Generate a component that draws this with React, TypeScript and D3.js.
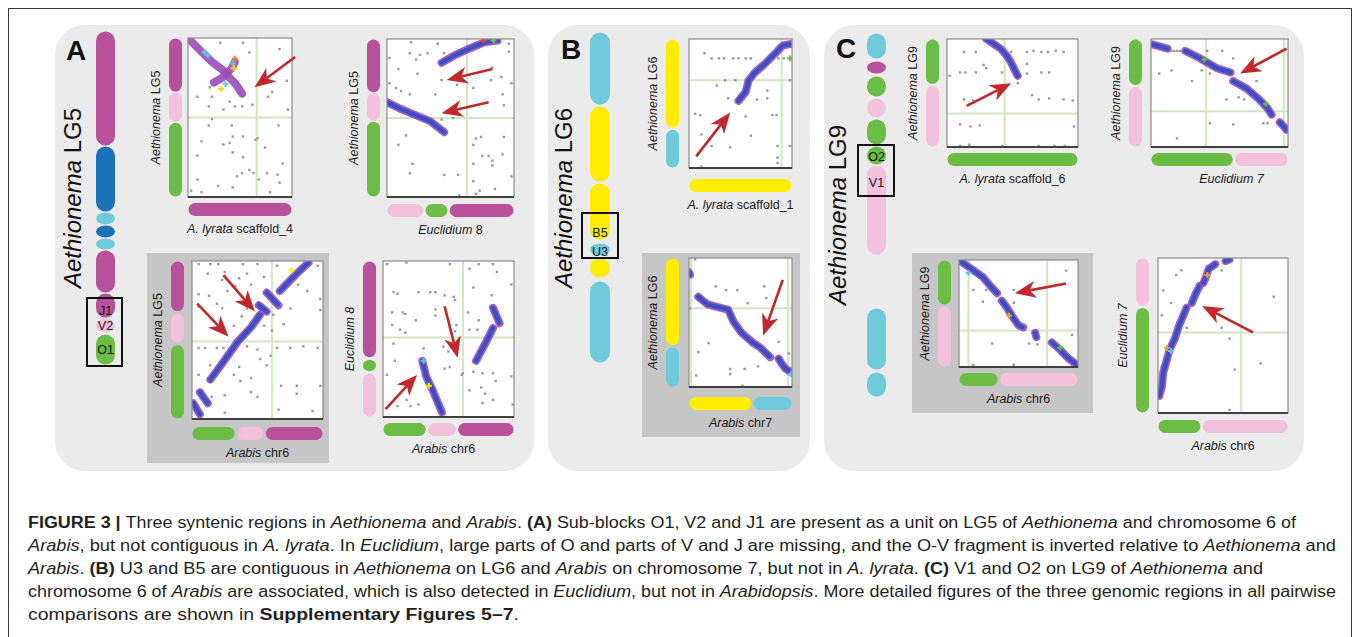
import React from 'react';
import * as d3 from 'd3';

type Pt = [number, number];
type Block = [number, number, string];
type Part = [string, string]; // [style, text]  n = normal, i = italic, b = bold

// block colours
const blockColor: Record<string, string> = {
  magenta: '#b7519b',
  pink: '#f3c1db',
  green: '#6bbd45',
  blue: '#1a72b9',
  cyan: '#6fcbdc',
  yellow: '#ffed00',
};

// ---- Aethionema linkage groups (length units along the chromosome) ----
const lg5Blocks: Block[] = [
  [0, 115, 'magenta'], [115, 181, 'blue'], [181, 194, 'cyan'], [194, 207, 'blue'],
  [207, 219, 'cyan'], [219, 262, 'magenta'], [262, 287, 'magenta'], [287, 302, 'pink'], [303, 334, 'green'],
];
const lg6Blocks: Block[] = [
  [0, 73, 'cyan'], [74, 150, 'yellow'], [151, 208, 'yellow'], [211, 224, 'cyan'],
  [226, 246, 'yellow'], [249, 331, 'cyan'],
];
const lg9Blocks: Block[] = [
  [0, 26, 'cyan'], [28, 41, 'magenta'], [43, 64, 'green'], [65, 85, 'pink'], [86, 112, 'green'],
  [113, 132, 'green'], [132, 222, 'pink'], [275, 337, 'cyan'], [339, 364, 'cyan'],
];
const lg5Tags = [['J1', 280], ['V2', 295], ['O1', 319]] as [string, number][];
const lg6Tags = [['B5', 201], ['U3', 220]] as [string, number][];
const lg9Tags = [['O2', 124], ['V1', 150]] as [string, number][];

// ---- dot plots: all values in percent of each axis ----
// A1  Aethionema LG5 vs A. lyrata scaffold_4
const a1Left: Block[] = [[0, 34, 'magenta'], [34, 53, 'pink'], [53, 100, 'green']];
const a1Bottom: Block[] = [[0, 100, 'magenta']];
const a1Grid = { x: [66], y: [50] };
const a1Synteny: Pt[][] = [
  [[0, 0], [12, 8], [23, 15], [33, 20], [40, 25], [46, 29], [50, 33], [52, 35]],
  [[25, 28], [33, 25], [42, 19], [45, 15]],
];
const a1Marks: [number, number, string][] = [[45, 13, '#f07d2a'], [43, 16, '#5fc7e6'], [44, 19, '#ffd400'], [32, 32, '#ffd400'], [16, 9, '#5fc7e6'], [19, 11, '#5fc7e6'], [36, 29, '#5fc7e6']];
const a1Arrows: [Pt, Pt][] = [[[103, 12], [64, 31]]];
const a1Noise: Pt[] = [
  [31, 3], [53, 3], [59, 9], [88, 7], [95, 27], [81, 34], [77, 37], [21, 31], [23, 37], [9, 37], [20, 43],
  [34, 45], [40, 40], [45, 43], [52, 43], [62, 42], [96, 45], [23, 51], [20, 55], [42, 55], [87, 55], [13, 65],
  [43, 62], [53, 62], [67, 63], [34, 67], [40, 66], [43, 72], [74, 69], [9, 74], [91, 79], [53, 75], [59, 83],
  [47, 87], [52, 85], [63, 85], [76, 85], [86, 86], [88, 91], [9, 89], [29, 93], [3, 96], [13, 97], [43, 94],
  [68, 89], [79, 97], [65, 64],
];

// A2  Aethionema LG5 vs Euclidium 8
const a2Left: Block[] = [[0, 34, 'magenta'], [34, 52, 'pink'], [52, 100, 'green']];
const a2Bottom: Block[] = [[0, 29, 'pink'], [30, 48, 'green'], [49, 100, 'magenta']];
const a2Grid = { x: [63], y: [50] };
const a2Synteny: Pt[][] = [
  [[43, 15], [54, 10], [65, 6], [77, 2], [87, 1]],
  [[0, 40], [10, 44], [22, 48], [34, 52], [45, 59]],
];
const a2Marks: [number, number, string][] = [[76, 1, '#e8462b'], [84, 1, '#6bbd45']];
const a2Arrows: [Pt, Pt][] = [[[83, 19], [47, 26]], [[80, 40], [43, 47]]];
const a2Noise: Pt[] = [
  [19, 2], [40, 3], [96, 3], [2, 12], [18, 9], [26, 10], [32, 9], [23, 13], [45, 9], [9, 19], [24, 22],
  [2, 28], [7, 31], [11, 33], [18, 35], [43, 26], [55, 29], [38, 35], [68, 31], [82, 26], [90, 24], [98, 28],
  [83, 18], [96, 8], [91, 35], [92, 42], [52, 50], [43, 51], [15, 61], [9, 67], [70, 63], [74, 62], [92, 62],
  [68, 67], [75, 74], [80, 74], [91, 73], [83, 77], [83, 80], [68, 79], [20, 79], [18, 85], [45, 86], [56, 86],
  [98, 87], [68, 90], [73, 96], [70, 98], [85, 95], [57, 99],
];

// A3  Aethionema LG5 vs Arabis chr6
const a3Left: Block[] = [[0, 32, 'magenta'], [33, 52, 'pink'], [53, 100, 'green']];
const a3Bottom: Block[] = [[0, 33, 'green'], [34, 55, 'pink'], [56, 100, 'magenta']];
const a3Grid = { x: [61], y: [51] };
const a3Synteny: Pt[][] = [
  [[1, 90], [6, 97]],
  [[6, 83], [12, 90]],
  [[14, 75], [22, 66], [35, 51], [45, 42], [52, 34]],
  [[51, 28], [57, 32]],
  [[57, 20], [66, 28]],
  [[67, 19], [80, 8], [89, 1]],
];
const a3Marks: [number, number, string][] = [[76, 6, '#ffe600']];
const a3Arrows: [Pt, Pt][] = [[[4, 27], [28, 48]], [[24, 9], [48, 32]]];
const a3Noise: Pt[] = [
  [5, 2], [14, 2], [20, 2], [39, 2], [50, 2], [65, 3], [96, 3], [12, 8], [25, 7], [42, 8], [55, 10], [23, 12],
  [36, 11], [5, 21], [13, 22], [27, 19], [33, 16], [45, 15], [81, 15], [88, 19], [98, 24], [5, 29], [19, 27],
  [23, 30], [42, 30], [38, 35], [62, 34], [75, 30], [98, 31], [22, 39], [32, 41], [55, 41], [61, 44], [5, 55],
  [10, 55], [19, 55], [24, 55], [50, 56], [42, 54], [52, 62], [57, 66], [65, 55], [75, 55], [85, 54], [96, 55],
  [24, 64], [36, 67], [32, 72], [45, 74], [68, 79], [80, 79], [98, 79], [14, 66], [37, 76], [45, 83], [80, 84],
  [25, 85], [25, 96], [66, 94], [92, 95], [5, 72], [15, 86], [50, 86], [60, 60], [70, 40],
];

// A4  Euclidium 8 vs Arabis chr6
const a4Left: Block[] = [[0, 62, 'magenta'], [63, 71, 'green'], [72, 100, 'pink']];
const a4Bottom: Block[] = [[0, 33, 'green'], [34, 56, 'pink'], [57, 100, 'magenta']];
const a4Grid = { x: [61], y: [49] };
const a4Synteny: Pt[][] = [
  [[30, 64], [33, 74], [38, 83], [45, 97]],
  [[71, 64], [78, 53], [84, 43]],
  [[84, 30], [89, 40]],
];
const a4Marks: [number, number, string][] = [[35, 80, '#ffe600'], [31, 64, '#5fc7e6']];
const a4Arrows: [Pt, Pt][] = [[[2, 95], [26, 73]], [[47, 29], [57, 62]]];
const a4Noise: Pt[] = [
  [3, 2], [18, 1], [51, 2], [66, 5], [73, 2], [84, 2], [87, 7], [98, 15], [69, 17], [8, 20], [11, 21],
  [27, 20], [36, 20], [40, 20], [47, 22], [54, 23], [55, 25], [83, 22], [7, 33], [15, 33], [17, 34], [25, 38],
  [7, 41], [40, 31], [40, 35], [56, 41], [55, 45], [13, 44], [17, 46], [65, 33], [72, 44], [66, 44], [73, 38],
  [8, 53], [46, 55], [50, 58], [31, 56], [9, 64], [47, 69], [51, 68], [60, 73], [61, 72], [69, 71], [76, 72],
  [84, 72], [3, 73], [75, 81], [86, 77], [98, 74], [66, 83], [78, 85], [84, 89], [18, 89], [21, 93], [27, 92],
  [11, 93], [99, 92], [76, 91],
];

// B1  Aethionema LG6 vs A. lyrata scaffold_1
const b1Left: Block[] = [[0, 69, 'yellow'], [70, 100, 'cyan']];
const b1Bottom: Block[] = [[0, 100, 'yellow']];
const b1Grid = { x: [90], y: [32] };
const b1Synteny: Pt[][] = [
  [[48, 48], [55, 41], [58, 32], [64, 26], [74, 19], [84, 11], [91, 5], [98, 4]],
];
const b1Marks: [number, number, string][] = [[98, 15, '#6bbd45']];
const b1Arrows: [Pt, Pt][] = [[[7, 91], [40, 57]]];
const b1Noise: Pt[] = [
  [15, 11], [22, 15], [29, 15], [34, 15], [43, 15], [48, 15], [55, 15], [60, 15], [87, 15], [92, 15], [35, 32],
  [45, 32], [55, 32], [98, 32], [27, 36], [76, 40], [76, 46], [38, 46], [66, 47], [6, 58], [11, 59], [55, 60],
  [81, 59], [85, 59], [12, 74], [60, 75], [22, 83], [40, 84], [86, 83], [98, 83], [86, 92], [86, 96], [12, 99],
];

// B2  Aethionema LG6 vs Arabis chr7
const b2Left: Block[] = [[0, 68, 'yellow'], [69, 100, 'cyan']];
const b2Bottom: Block[] = [[0, 61, 'yellow'], [62, 100, 'cyan']];
const b2Grid = { x: [2, 96], y: [39] };
const b2Synteny: Pt[][] = [
  [[0, 11], [1, 13]],
  [[9, 30], [18, 36], [28, 38], [38, 40], [43, 49], [51, 58], [61, 65], [70, 70], [79, 77]],
  [[87, 78], [90, 82], [94, 86], [98, 88]],
];
const b2Marks: [number, number, string][] = [[99, 90, '#5fc7e6']];
const b2Arrows: [Pt, Pt][] = [[[91, 17], [72, 60]]];
const b2Noise: Pt[] = [
  [6, 1], [26, 22], [36, 25], [47, 25], [73, 22], [1, 39], [57, 35], [75, 31], [19, 66], [9, 73], [40, 86],
  [54, 86], [40, 90], [7, 91], [52, 99], [67, 84], [87, 65], [97, 74],
];

// C1  Aethionema LG9 vs A. lyrata scaffold_6
const c1Left: Block[] = [[0, 42, 'green'], [43, 100, 'pink']];
const c1Bottom: Block[] = [[0, 100, 'green']];
const c1Grid = { x: [44], y: [69] };
const c1Synteny: Pt[][] = [
  [[30, 0], [35, 4], [41, 9], [46, 16], [49, 22], [53, 32], [54, 34]],
];
const c1Marks: [number, number, string][] = [];
const c1Arrows: [Pt, Pt][] = [[[15, 62], [49, 41]]];
const c1Noise: Pt[] = [
  [13, 12], [22, 12], [49, 12], [61, 12], [66, 11], [72, 12], [77, 12], [83, 11], [89, 12], [28, 24], [30, 27],
  [2, 34], [10, 31], [14, 31], [22, 31], [42, 31], [61, 32], [72, 31], [78, 31], [61, 23], [54, 41], [65, 52],
  [70, 56], [78, 55], [89, 56], [96, 57], [13, 56], [20, 57], [10, 79], [18, 81], [25, 80], [97, 81], [10, 99],
  [17, 98], [42, 99], [70, 99], [82, 99], [90, 99],
];

// C2  Aethionema LG9 vs Euclidium 7
const c2Left: Block[] = [[0, 43, 'green'], [44, 100, 'pink']];
const c2Bottom: Block[] = [[0, 60, 'green'], [61, 100, 'pink']];
const c2Grid = { x: [40, 97], y: [67] };
const c2Synteny: Pt[][] = [
  [[1, 5], [12, 9]],
  [[25, 11], [33, 16], [40, 21], [48, 27], [58, 31]],
  [[60, 39], [70, 46], [79, 56], [85, 64], [88, 70]],
  [[94, 77], [99, 84]],
];
const c2Marks: [number, number, string][] = [[84, 60, '#6bbd45'], [39, 19, '#6bbd45']];
const c2Arrows: [Pt, Pt][] = [[[99, 9], [65, 32]]];
const c2Noise: Pt[] = [
  [41, 11], [52, 11], [60, 18], [6, 32], [15, 29], [30, 39], [37, 29], [43, 32], [77, 39], [55, 56], [64, 54],
  [68, 56], [43, 78], [60, 79], [82, 78], [85, 78], [19, 92], [15, 11], [17, 11], [19, 11], [21, 11],
];

// C3  Aethionema LG9 vs Arabis chr6
const c3Left: Block[] = [[0, 42, 'green'], [43, 100, 'pink']];
const c3Bottom: Block[] = [[0, 33, 'green'], [34, 100, 'pink']];
const c3Grid = { x: [8, 74], y: [66] };
const c3Synteny: Pt[][] = [
  [[1, 1], [10, 8], [20, 16], [27, 25], [32, 31]],
  [[36, 38], [40, 44], [45, 53], [50, 61], [54, 63]],
  [[64, 68], [65, 72]],
  [[78, 77], [85, 84], [92, 92], [99, 98]],
];
const c3Marks: [number, number, string][] = [[42, 52, '#f0a02a'], [85, 82, '#6bbd45'], [8, 12, '#5fc7e6']];
const c3Arrows: [Pt, Pt][] = [[[90, 22], [47, 31]]];
const c3Noise: Pt[] = [
  [90, 10], [12, 28], [23, 28], [46, 28], [46, 40], [20, 39], [28, 78], [59, 78], [66, 79], [95, 70], [12, 98],
  [46, 98],
];

// C4  Euclidium 7 vs Arabis chr6
const c4Left: Block[] = [[0, 31, 'pink'], [32, 100, 'green']];
const c4Bottom: Block[] = [[0, 33, 'green'], [34, 100, 'pink']];
const c4Grid = { x: [64], y: [48] };
const c4Synteny: Pt[][] = [
  [[1, 89], [3, 83], [4, 74], [6, 68], [9, 59], [13, 52], [16, 44], [21, 34], [22, 32]],
  [[26, 29], [29, 23], [32, 18]],
  [[35, 16], [37, 12], [39, 7], [44, 4]],
  [[52, 2], [55, 1]],
];
const c4Marks: [number, number, string][] = [[7, 58, '#f0a02a'], [10, 60, '#5fc7e6'], [38, 11, '#f0a02a']];
const c4Arrows: [Pt, Pt][] = [[[73, 48], [34, 31]]];
const c4Noise: Pt[] = [
  [18, 8], [14, 11], [49, 8], [4, 21], [10, 29], [3, 37], [22, 45], [49, 45], [89, 25], [55, 52], [79, 68],
  [59, 72], [3, 70], [55, 98],
];

// ---- caption ----
const captionLines: Part[][] = [
  [['b', 'FIGURE 3 | '], ['n', 'Three syntenic regions in '], ['i', 'Aethionema'], ['n', ' and '], ['i', 'Arabis'], ['n', '. '], ['b', '(A)'], ['n', ' Sub-blocks O1, V2 and J1 are present as a unit on LG5 of '], ['i', 'Aethionema'], ['n', ' and chromosome 6 of']],
  [['i', 'Arabis'], ['n', ', but not contiguous in '], ['i', 'A. lyrata'], ['n', '. In '], ['i', 'Euclidium'], ['n', ', large parts of O and parts of V and J are missing, and the O-V fragment is inverted relative to '], ['i', 'Aethionema'], ['n', ' and']],
  [['i', 'Arabis'], ['n', '. '], ['b', '(B)'], ['n', ' U3 and B5 are contiguous in '], ['i', 'Aethionema'], ['n', ' on LG6 and '], ['i', 'Arabis'], ['n', ' on chromosome 7, but not in '], ['i', 'A. lyrata'], ['n', '. '], ['b', '(C)'], ['n', ' V1 and O2 on LG9 of '], ['i', 'Aethionema'], ['n', ' and']],
  [['n', 'chromosome 6 of '], ['i', 'Arabis'], ['n', ' are associated, which is also detected in '], ['i', 'Euclidium'], ['n', ', but not in '], ['i', 'Arabidopsis'], ['n', '. More detailed figures of the three genomic regions in all pairwise']],
  [['n', 'comparisons are shown in '], ['b', 'Supplementary Figures 5–7'], ['n', '.']],
];
const captionWidths = [1268, 1308, 1235, 1308, 491];

// ---- layout ----
const FONT = "'Liberation Sans', Arial, Helvetica, sans-serif";
const NARROW = "'Liberation Sans Narrow', 'Liberation Sans', Arial, sans-serif";
const ARROW = '#c1272d';

const lgA5: Part[] = [['i', 'Aethionema'], ['n', ' LG5']];
const lgA6: Part[] = [['i', 'Aethionema'], ['n', ' LG6']];
const lgA9: Part[] = [['i', 'Aethionema'], ['n', ' LG9']];
const arabis6: Part[] = [['i', 'Arabis'], ['n', ' chr6']];

const plots = [
  { x0: 188, x1: 292, y0: 38, y1: 197, lg: 6, bg: 6, left: a1Left, bottom: a1Bottom, grid: a1Grid, syn: a1Synteny, marks: a1Marks, arrows: a1Arrows, noise: a1Noise, ylab: lgA5, xlab: [['i', 'A. lyrata'], ['n', ' scaffold_4']] as Part[], purple: true },
  { x0: 387, x1: 514, y0: 39, y1: 197, lg: 7, bg: 7, left: a2Left, bottom: a2Bottom, grid: a2Grid, syn: a2Synteny, marks: a2Marks, arrows: a2Arrows, noise: a2Noise, ylab: lgA5, xlab: [['i', 'Euclidium'], ['n', ' 8']] as Part[] },
  { x0: 192, x1: 323, y0: 261, y1: 419, lg: 8, bg: 8, left: a3Left, bottom: a3Bottom, grid: a3Grid, syn: a3Synteny, marks: a3Marks, arrows: a3Arrows, noise: a3Noise, ylab: lgA5, xlab: arabis6 },
  { x0: 383, x1: 514, y0: 261, y1: 417, lg: 7, bg: 6, left: a4Left, bottom: a4Bottom, grid: a4Grid, syn: a4Synteny, marks: a4Marks, arrows: a4Arrows, noise: a4Noise, ylab: [['i', 'Euclidium 8']] as Part[], xlab: arabis6, xdx: -5 },
  { x0: 689, x1: 792, y0: 39, y1: 168, lg: 10, bg: 11, left: b1Left, bottom: b1Bottom, grid: b1Grid, syn: b1Synteny, marks: b1Marks, arrows: b1Arrows, noise: b1Noise, ylab: lgA6, xlab: [['i', 'A. lyrata'], ['n', ' scaffold_1']] as Part[] },
  { x0: 689, x1: 792, y0: 258, y1: 387, lg: 10, bg: 10, left: b2Left, bottom: b2Bottom, grid: b2Grid, syn: b2Synteny, marks: b2Marks, arrows: b2Arrows, noise: b2Noise, ylab: lgA6, xlab: [['i', 'Arabis'], ['n', ' chr7']] as Part[] },
  { x0: 947, x1: 1078, y0: 39, y1: 147, lg: 8, bg: 6, left: c1Left, bottom: c1Bottom, grid: c1Grid, syn: c1Synteny, marks: c1Marks, arrows: c1Arrows, noise: c1Noise, ylab: lgA9, xlab: [['i', 'A. lyrata'], ['n', ' scaffold_6']] as Part[] },
  { x0: 1151, x1: 1288, y0: 39, y1: 147, lg: 9, bg: 6, left: c2Left, bottom: c2Bottom, grid: c2Grid, syn: c2Synteny, marks: c2Marks, arrows: c2Arrows, noise: c2Noise, ylab: lgA9, xlab: [['i', 'Euclidium 7']] as Part[], xdx: 12 },
  { x0: 959, x1: 1078, y0: 260, y1: 367, lg: 8, bg: 6, left: c3Left, bottom: c3Bottom, grid: c3Grid, syn: c3Synteny, marks: c3Marks, arrows: c3Arrows, noise: c3Noise, ylab: lgA9, xlab: arabis6 },
  { x0: 1158, x1: 1288, y0: 258, y1: 413, lg: 9, bg: 7, left: c4Left, bottom: c4Bottom, grid: c4Grid, syn: c4Synteny, marks: c4Marks, arrows: c4Arrows, noise: c4Noise, ylab: [['i', 'Euclidium 7']] as Part[], xlab: arabis6 },
];

const Spans = ({ parts }: { parts: Part[] }) => (
  <>
    {parts.map(([s, t], i) => (
      <tspan key={i} fontStyle={s === 'i' ? 'italic' : 'normal'} fontWeight={s === 'b' ? 'bold' : 'normal'}>{t}</tspan>
    ))}
  </>
);

const Chromosome = ({ blocks, total, x, y0, y1, w }: { blocks: Block[]; total: number; x: number; y0: number; y1: number; w: number }) => {
  const s = d3.scaleLinear().domain([0, total]).range([y0, y1]);
  return (
    <g>
      {blocks.map(([a, b, c], i) => (
        <rect key={i} x={x} y={s(a) + 0.5} width={w} height={s(b) - s(a) - 1} rx={w / 2} fill={blockColor[c]} />
      ))}
    </g>
  );
};

const arrowShape = (sx: number, sy: number, ex: number, ey: number) => {
  const dx = ex - sx, dy = ey - sy;
  const len = Math.hypot(dx, dy);
  const ux = dx / len, uy = dy / len;
  const nx = -uy, ny = ux;
  const L = 21, hw = 8.5, notch = 15;
  const bx = ex - ux * L, by = ey - uy * L;
  const mx = ex - ux * notch, my = ey - uy * notch;
  const head = [[ex, ey], [bx + nx * hw, by + ny * hw], [mx, my], [bx - nx * hw, by - ny * hw]];
  return { line: [sx, sy, mx, my], head: head.map((p) => p.join(',')).join(' ') };
};

const DotPlot = ({ p, id }: { p: any; id: number }) => {
  const x = d3.scaleLinear().domain([0, 100]).range([p.x0, p.x1]);
  const y = d3.scaleLinear().domain([0, 100]).range([p.y0, p.y1]);
  const line = d3.line<Pt>().x((d) => x(d[0])).y((d) => y(d[1]));
  const barW = 13;
  const lx = p.x0 - p.lg - barW;
  const by = p.y1 + p.bg;
  const cx = (p.x0 + p.x1) / 2 + (p.xdx || 0);
  const cy = (p.y0 + p.y1) / 2;
  return (
    <g>
      <defs>
        <clipPath id={`clip${id}`}>
          <rect x={p.x0} y={p.y0} width={p.x1 - p.x0} height={p.y1 - p.y0} />
        </clipPath>
      </defs>
      <rect x={p.x0} y={p.y0} width={p.x1 - p.x0} height={p.y1 - p.y0} fill="#fff" />
      {p.grid.x.map((g: number, i: number) => (
        <line key={'gx' + i} x1={x(g)} x2={x(g)} y1={p.y0} y2={p.y1} stroke="#cfe8c2" strokeWidth={2} />
      ))}
      {p.grid.y.map((g: number, i: number) => (
        <line key={'gy' + i} x1={p.x0} x2={p.x1} y1={y(g)} y2={y(g)} stroke="#cfe8c2" strokeWidth={2} />
      ))}
      <g clipPath={`url(#clip${id})`}>
        {p.noise.map((d: Pt, i: number) => (
          <rect key={'n' + i} x={x(d[0]) - 1.2} y={y(d[1]) - 1.2} width={2.4} height={2.4} fill="#9a9a9a" />
        ))}
        {p.syn.map((s: Pt[], i: number) => (
          <g key={'s' + i}>
            <path d={line(s) || ''} fill="none" stroke="#9a4cb8" strokeWidth={8} strokeLinecap="round" strokeLinejoin="round" opacity={0.9} />
            {!p.purple && (
              <path d={line(s) || ''} fill="none" stroke="#3a4fc3" strokeWidth={4.6} strokeLinecap="round" strokeLinejoin="round" strokeDasharray="7 2" />
            )}
          </g>
        ))}
        {p.marks.map((m: [number, number, string], i: number) => (
          <g key={'m' + i} stroke={m[2]} strokeWidth={2}>
            <line x1={x(m[0]) - 3} x2={x(m[0]) + 3} y1={y(m[1])} y2={y(m[1])} />
            <line x1={x(m[0])} x2={x(m[0])} y1={y(m[1]) - 3} y2={y(m[1]) + 3} />
          </g>
        ))}
      </g>
      <rect x={p.x0} y={p.y0} width={p.x1 - p.x0} height={p.y1 - p.y0} fill="none" stroke="#8a8a8a" strokeWidth={1.2} />
      <line x1={p.x0} x2={p.x1} y1={p.y1} y2={p.y1} stroke="#404040" strokeWidth={2} />
      {p.arrows.map((a: [Pt, Pt], i: number) => {
        const s = arrowShape(x(a[0][0]), y(a[0][1]), x(a[1][0]), y(a[1][1]));
        return (
          <g key={'a' + i}>
            <line x1={s.line[0]} y1={s.line[1]} x2={s.line[2]} y2={s.line[3]} stroke={ARROW} strokeWidth={2.6} />
            <polygon points={s.head} fill={ARROW} />
          </g>
        );
      })}
      {p.left.map(([a, b, c]: Block, i: number) => (
        <rect key={'l' + i} x={lx} y={y(a) + 0.5} width={barW} height={y(b) - y(a) - 1} rx={barW / 2} fill={blockColor[c]} />
      ))}
      {p.bottom.map(([a, b, c]: Block, i: number) => (
        <rect key={'b' + i} x={x(a) + 0.5} y={by} width={x(b) - x(a) - 1} height={barW} rx={barW / 2} fill={blockColor[c]} />
      ))}
      <text x={cx} y={by + barW + 17} textAnchor="middle" fontSize={12.5} fontFamily={FONT} fill="#1a1a1a">
        <Spans parts={p.xlab} />
      </text>
      <text transform={`translate(${lx - 9},${cy}) rotate(-90)`} textAnchor="middle" fontSize={12.5} fontFamily={FONT} fill="#1a1a1a">
        <Spans parts={p.ylab} />
      </text>
    </g>
  );
};

const Tags = ({ tags, total, y0, y1, x }: { tags: [string, number][]; total: number; y0: number; y1: number; x: number }) => {
  const s = d3.scaleLinear().domain([0, total]).range([y0, y1]);
  return (
    <g>
      {tags.map(([t, v]) => (
        <text key={t} x={x} y={s(v)} textAnchor="middle" dominantBaseline="central" fontSize={12.5} fontFamily={FONT} fill="#111">{t}</text>
      ))}
    </g>
  );
};

export default function App() {
  return (
    <svg width={1358} height={637} style={{ position: 'absolute', left: 0, top: 0, background: '#fff' }}>
      <rect x={8.5} y={8.5} width={1343} height={640} fill="#fff" stroke="#3a3a3a" strokeWidth={1} />

      {/* panel backgrounds */}
      <rect x={55} y={25} width={479} height={446} rx={30} fill="#ebebeb" />
      <rect x={548} y={25} width={262} height={446} rx={30} fill="#ebebeb" />
      <rect x={824} y={25} width={480} height={446} rx={30} fill="#ebebeb" />
      <rect x={147} y={253} width={182} height={210} fill="#c6c6c6" />
      <rect x={642} y={253} width={158} height={184} fill="#c6c6c6" />
      <rect x={912} y={253} width={181} height={160} fill="#c6c6c6" />

      {/* panel letters */}
      <g fontFamily={FONT} fontWeight="bold" fontSize={28} fill="#111">
        <text x={66} y={60}>A</text>
        <text x={561} y={59}>B</text>
        <text x={836} y={58}>C</text>
      </g>

      {/* Aethionema chromosomes */}
      <Chromosome blocks={lg5Blocks} total={334} x={96} y0={31} y1={365} w={19} />
      <Chromosome blocks={lg6Blocks} total={331} x={590} y0={32} y1={363} w={20} />
      <Chromosome blocks={lg9Blocks} total={364} x={867} y0={33} y1={397} w={19} />
      <Tags tags={lg5Tags} total={334} y0={31} y1={365} x={105.5} />
      <Tags tags={lg6Tags} total={331} y0={32} y1={363} x={600} />
      <Tags tags={lg9Tags} total={364} y0={33} y1={397} x={876.5} />
      <g fill="none" stroke="#111" strokeWidth={2}>
        <rect x={87} y={298} width={35} height={68} />
        <rect x={582} y={213} width={36} height={45} />
        <rect x={858} y={145} width={36} height={51} />
      </g>
      <g fontFamily={FONT} fontSize={24} fill="#111" textAnchor="middle">
        <text transform="translate(81,198) rotate(-90)"><Spans parts={lgA5} /></text>
        <text transform="translate(572,198) rotate(-90)"><Spans parts={lgA6} /></text>
        <text transform="translate(846,215) rotate(-90)"><Spans parts={lgA9} /></text>
      </g>

      {plots.map((p, i) => (
        <DotPlot key={i} p={p} id={i} />
      ))}

      {/* caption */}
      <g fontFamily={NARROW} fontSize={16} fill="#231f20">
        {captionLines.map((ln, i) => (
          <text key={i} x={28} y={527.5 + i * 23} textLength={captionWidths[i]} lengthAdjust="spacingAndGlyphs">
            <Spans parts={ln} />
          </text>
        ))}
      </g>
    </svg>
  );
}
